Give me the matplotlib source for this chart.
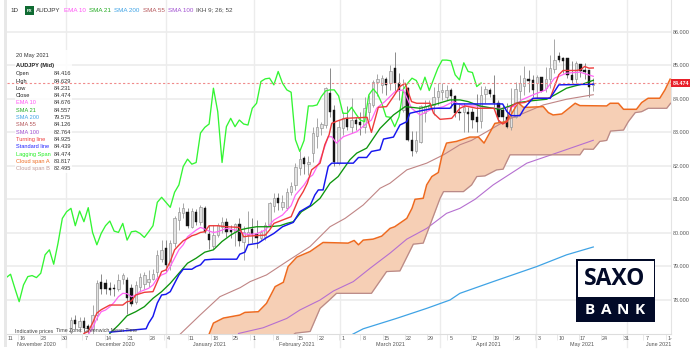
import numpy as np
import matplotlib
matplotlib.use('Agg')
from matplotlib import pyplot as plt
from matplotlib.patches import Rectangle

plt.rcParams['font.family'] = ['Liberation Sans', 'DejaVu Sans']

# candles, first one is bar 11 (bar 0 = 16 Nov 2020)
first_bar = 11
opens = [77.03,77.38,77.18,77.36,77.2,77.13,77.53,78.53,78.51,78.36,78.36,78.33,78.61,78.58,78.36,77.93,78.38,78.48,78.53,78.63,
         78.83,79.23,79.55,79.03,79.68,80.38,80.6,80.61,80.18,80.63,80.33,80.73,79.95,79.61,79.93,80.18,80.33,80.08,80.03,80.25,
         79.73,79.93,80.1,79.95,79.83,79.88,80.23,80.81,81.03,80.76,80.73,81.23,81.43,81.93,82.23,82.05,82.38,82.88,83.12,83.22,
         84.19,83.67,82.08,83.12,83.42,83.17,83.37,83.3,83.17,83.62,83.82,84.5,84.42,84.6,84.47,84.92,84.47,83.67,84.32,82.76,
         82.43,82.7,83.57,83.72,83.82,84.05,84.22,84.07,84.27,84.09,83.62,83.62,83.62,83.62,83.45,83.35,84.15,84.27,84.12,83.87,
         83.67,83.47,83.17,83.47,84.25,84.4,84.59,84.57,84.47,84.65,84.32,84.59,84.9,85.29,85.23,85.23,84.72,84.59,85.04,84.87,
         84.85,84.416]
highs = [77.48,77.53,77.48,77.48,77.28,77.83,78.58,78.76,78.63,78.53,78.48,78.78,78.8,78.68,78.48,78.55,78.81,78.83,78.88,78.93,
         79.48,79.78,79.78,79.78,80.51,80.78,80.9,80.75,80.73,80.7,80.83,80.8,80.23,80.23,80.28,80.48,80.43,80.23,80.3,80.43,
         80.2,80.65,80.45,80.38,80.08,80.33,80.93,81.18,81.18,81.13,81.35,81.53,82.08,82.43,82.3,82.3,83.15,83.42,83.32,84.37,
         84.92,83.82,83.37,83.62,83.79,84.02,83.47,83.62,84.05,84.12,84.57,84.75,84.72,84.67,85.02,85.41,84.77,84.6,84.37,83.03,
         83.03,83.82,83.97,83.97,84.37,84.47,84.47,84.42,84.32,84.12,83.87,83.87,83.77,83.72,84.15,84.39,84.39,84.32,84.72,83.97,
         83.82,83.87,84.32,84.52,84.72,84.97,84.85,84.72,84.72,84.67,84.94,85.31,85.78,85.39,85.26,84.87,85.14,85.14,85.01,85.06,
         84.629,84.629]
lows = [76.95,77.13,77.03,76.95,76.98,76.95,77.38,78.18,78.18,78.13,78.11,78.25,78.48,77.58,77.8,77.88,78.23,78.33,78.38,78.58,
        78.68,79.13,78.83,78.88,79.58,80.08,80.43,80.13,80.13,80.23,80.23,79.98,79.51,79.51,79.88,79.98,79.88,79.83,79.61,79.61,
        79.2,79.65,79.68,79.53,79.78,79.78,80.18,80.63,80.68,80.68,80.68,81.13,81.28,81.73,81.76,81.73,82.1,82.53,82.92,83.12,
        83.47,82.0,82.03,82.92,83.07,82.97,83.07,82.92,82.97,83.37,83.75,84.09,84.17,84.12,84.27,84.22,83.97,83.6,82.73,82.28,
        82.38,82.68,83.32,83.67,83.52,83.82,83.97,83.97,83.72,83.47,83.37,83.02,83.02,83.12,83.02,83.12,83.87,84.07,83.77,83.32,
        83.32,83.12,83.07,83.42,83.87,84.12,84.22,84.07,84.02,84.22,84.22,84.32,84.77,85.11,84.77,84.62,84.47,84.47,84.67,84.59,
        84.05,84.231]
closes = [77.38,77.26,77.35,77.15,77.11,77.55,78.51,78.33,78.31,78.28,78.31,78.6,78.73,78.05,77.88,78.44,78.68,78.73,78.63,78.78,
          79.33,79.48,79.03,79.68,80.43,80.63,80.73,80.21,80.66,80.31,80.76,80.01,79.78,79.93,80.23,80.33,80.03,80.01,80.25,79.75,
          80.03,80.03,79.95,79.85,80.01,80.23,80.88,81.05,80.88,80.93,81.21,81.41,81.98,82.2,82.05,82.1,82.98,83.15,83.25,84.32,
          83.62,82.1,83.17,83.42,83.17,83.37,83.25,83.22,83.72,83.87,84.52,84.6,84.62,84.42,84.82,84.47,84.27,84.2,82.78,82.43,
          82.76,83.79,83.79,83.82,84.07,84.24,84.27,84.27,84.09,83.57,83.57,83.75,83.55,83.37,83.32,84.12,84.3,84.15,83.87,83.47,
          83.45,83.17,83.47,84.29,84.47,84.62,84.55,84.27,84.65,84.25,84.59,84.92,85.16,85.16,85.14,84.72,84.57,85.08,84.82,84.79,
          84.37,84.474]

# lagging span, one value per bar from bar -4
lagging = [78.66,78.76,78.34,77.94,78.44,78.69,78.72,78.66,78.79,79.34,79.49,79.06,79.69,80.43,80.63,80.73,80.21,80.65,80.33,80.75,
           80.01,79.64,79.98,80.21,80.35,80.05,80.01,80.28,79.78,80.03,80.05,79.98,79.86,80.03,80.21,80.91,81.06,80.91,80.76,81.21,81.43,
           81.98,82.2,82.05,82.1,82.98,83.15,83.25,84.32,83.62,82.1,83.17,83.42,83.17,83.37,83.25,83.22,83.72,83.87,84.52,84.6,
           84.62,84.42,84.82,84.47,84.27,84.2,82.78,82.43,82.76,83.79,83.79,83.82,84.07,84.24,84.27,84.27,84.09,83.57,83.57,83.75,
           83.55,83.37,83.32,84.12,84.3,84.15,83.87,83.47,83.45,83.17,83.47,84.29,84.47,84.62,84.55,84.27,84.65,84.25,84.59,84.92,
           85.16,85.16,85.14,84.72,84.57,85.08,84.82,84.79,84.37,84.474]

turning_x = [14,15,16,17,18,20,23,24,25,26,28,30,31,32,33,34,35,36,37,38,39,40,41,42,43,45,47,50,51,52,56,57,58,60,62,63.7,64.8,65.75,66.75,68.7,69.8,70.8,71.4,72.7,74.5,79.6,80.6,82.2,84.1,85.7,87.2,88.4,89.9,91.1,94.2,95,96.5,99.2,101.1,102.3,105,109,110,111,112,113,114,116,118,119,122,123,124,125,128,129,130,131,132]
turning_y = [76.99,77.05,77.3,77.6,77.7,77.84,77.84,77.94,77.96,78.14,78.22,78.24,78.54,78.84,78.89,79.14,79.49,79.63,79.76,79.83,79.91,79.95,80.01,80.03,80.21,80.21,80.18,80.16,79.88,79.9,79.93,80.08,80.28,80.38,80.48,81.0,81.23,81.48,81.88,82.08,82.63,82.93,83.27,83.34,83.42,83.45,83.0,83.75,83.77,84.07,84.37,84.47,83.92,83.87,83.87,83.57,83.39,83.42,83.72,83.79,83.72,83.72,83.37,83.25,83.32,83.77,83.87,83.89,84.0,84.02,84.02,84.37,84.72,84.85,84.85,84.87,84.97,84.92,84.925]
standard_x = [20,28.4,29,30,31,32,33,34,35,36,37,39,40,41,42,44,49.4,50.1,51.3,52,54.4,56,58,60,62.5,64,66.4,67.5,68.3,69.4,70.6,71.4,76.4,77.6,79.5,80.6,82.6,83.4,85.7,87.2,88.8,89.5,91.1,95,98.8,99.6,103.4,111,112,113,115,116,118,122,123,124,132]
standard_y = [77.03,77.13,77.3,77.5,77.9,78.14,78.16,78.24,78.49,78.74,78.91,78.91,78.99,79.04,79.19,79.21,79.21,79.36,79.42,79.64,79.69,79.83,79.98,80.18,80.31,80.63,80.81,81.13,81.28,81.28,81.98,82.08,82.08,82.25,82.25,82.43,82.48,82.8,82.86,83.22,83.32,83.57,83.62,83.72,83.72,83.85,83.85,83.85,83.62,83.5,83.5,83.72,84.02,84.02,84.22,84.42,84.439]
ema10_x = [15,16,17,18,19,20,21,22,23,24,25,26,27,28,29,30,31,32,33,34,35,36,37,38,39,40,41,42,43,44,45,46,47,48,50,51,52,54,56,57,58,60,62,63,64,65,66,67,68.5,69.4,70.6,71.4,72.5,74.1,77.2,79.5,80.6,81.8,83.7,86.1,88,89.9,91.9,94.2,97.3,99.6,101.9,105,108.4,111,113.5,115.4,118,121,123,125.8,128.9,132]
ema10_y = [76.96,77.15,77.44,77.64,77.69,77.79,77.92,78.09,78.19,78.18,78.09,78.14,78.24,78.29,78.34,78.44,78.64,78.74,78.79,78.99,79.24,79.49,79.64,79.88,79.98,80.08,80.16,80.11,80.05,80.01,80.03,80.08,80.13,80.11,80.05,79.98,79.95,79.97,80.08,80.23,80.38,80.53,80.81,81.13,81.28,81.43,81.63,81.73,82.1,82.43,82.87,82.87,82.68,82.87,83.02,83.27,83.37,83.72,83.92,84.22,84.27,83.72,83.52,83.67,83.77,83.92,83.79,83.79,83.72,83.72,83.77,83.97,84.12,84.27,84.62,84.77,84.8,84.676]
sma21_x = [20,22,24,26,28,30,32,34,36,38,40,42,44,46,48,50,51.7,54,57,59.4,61,62.5,64.4,66.7,68.7,71,72.9,75.6,77.2,79.5,82.6,85.7,88.4,91.9,95.7,98.8,101.1,103,105.7,108.8,110.4,112.7,114.6,118.1,121.2,123.5,125.8,127.8,129.7,132]
sma21_y = [76.99,77.24,77.52,77.64,77.79,78.04,78.24,78.49,78.79,79.09,79.24,79.42,79.49,79.74,79.93,80.08,80.13,80.18,80.18,80.21,80.28,80.33,80.63,80.81,81.03,81.48,81.68,82.18,82.38,82.53,83.12,83.52,83.77,83.72,83.85,83.97,83.97,83.92,83.79,83.72,83.69,83.79,83.89,83.95,83.99,84.15,84.32,84.39,84.45,84.557]
sma55_x = [36.3,40.9,45.5,50.2,52.5,56.3,61,66.4,71,74.5,78.7,82.6,84.9,88.8,93.4,97.3,101.1,103.8,107.3,112,115.8,120.4,125.8,132]
sma55_y = [76.97,77.54,78.09,78.36,78.54,78.74,79.14,79.59,80.18,80.43,80.83,81.33,81.48,81.88,82.08,82.33,82.63,82.76,83.02,83.37,83.57,83.82,83.99,84.126]
sma100_x = [49.8,55.5,61,64,68.7,71.8,76.4,80.3,84.9,88.8,93.4,98,101.1,104.6,108.8,116.6,124.3,132]
sma100_y = [76.99,77.16,77.44,77.69,77.99,78.26,78.54,78.94,79.39,79.81,80.13,80.58,80.73,81.0,81.43,82.08,82.42,82.764]
sma200_x = [76.3,78.7,86.4,93.4,98.8,101.1,108.8,118.9,125.8,132]
sma200_y = [76.97,77.13,77.44,77.74,77.99,78.19,78.54,78.99,79.34,79.575]
cloud_a_x = [43,44,46.3,50.1,51.3,54.4,56.3,58.3,60.2,61.3,63.3,66.4,69.4,75.2,76.6,77.6,78.7,81,83,84.9,86,88.8,90,90.7,92.6,93.4,94.6,96.1,96.9,98,100.3,103.4,105.4,106.7,109.2,112,114.6,115.8,116.9,120.4,121.6,122.7,124.7,127.8,128.9,135.1,135.9,137.8,139,142,143.2,144.7,147.4,148.6,149.8]
cloud_a_y = [76.97,77.3,77.45,77.54,77.62,77.64,77.89,78.39,78.52,78.99,79.27,79.44,79.71,79.69,79.77,79.64,79.78,79.81,79.9,80.13,80.18,80.43,80.73,81.0,81.03,81.43,81.68,81.8,82.28,82.68,82.73,82.86,82.86,82.68,83.27,83.32,83.89,83.75,83.75,83.77,83.59,83.52,83.55,83.87,83.8,83.79,83.87,83.87,83.69,83.69,83.89,84.02,84.02,84.27,84.59]
cloud_b_x = [43,62,63,66.4,68.7,70.6,72.5,80.6,84.1,87.2,90.3,92.6,96.5,97.3,101.9,103.8,105,106.9,109.6,111.1,112.7,128.9,129.8,132,133.5,135.1,136,139,140.1,141.7,143.2,144.7,149,149.9]
cloud_b_y = [76.3,76.9,77.0,77.05,77.74,77.96,78.19,78.19,78.84,78.86,79.66,79.69,81.03,81.23,81.23,81.43,81.68,81.7,81.88,81.9,82.33,82.33,82.5,82.495,82.73,82.76,83.04,83.07,83.32,83.59,83.62,83.72,83.72,83.87]

last_close = 84.474
y_ticks = [78, 79, 80, 81, 82, 83, 84, 85, 86]
day_pos = [-3,-0.3,4.75,9.6,14.5,19.8,24.9,30,33.5,39,44.4,49.2,53.4,58.7,64.3,69.1,74,78.9,84.2,89.3,94.4,99,104.6,109.7,114.5,119.4,124.7,129.6,134.7,139.8,144.4,149.8]
day_labels = ['11','16','23','30','7','14','21','28','4','11','18','25','1','8','15','22','1','8','15','22','29','5','12','19','26','3','10','17','24','31','7','1-']
month_grid = [9.85,33,53.4,73.3,96.5,118.7,139.8]
month_pos = [3.1,21.4,43,63.3,84.9,107.6,129.3,147.2]
month_labels = ['November 2020','December 2020','January 2021','February 2021','March 2021','April 2021','May 2021','June 2021']

info_rows = [('Open','84.416','#222222'),('High','84.629','#222222'),('Low','84.231','#222222'),('Close','84.474','#222222'),
             ('EMA 10','84.676','#ff55f5'),('SMA 21','84.557','#22aa22'),('SMA 200','79.575','#3fa3e5'),('SMA 55','84.126','#b5565a'),
             ('SMA 100','82.764','#a04fd0'),('Turning line','84.925','#ee3b3b'),('Standard line','84.439','#2222ff'),
             ('Lagging Span','84.474','#22ee22'),('Cloud span A','83.817','#ee6a1f'),('Cloud span B','82.495','#c09a98')]
header = [('AUDJPY',36,'#333333'),('EMA 10',64,'#ff55f5'),('SMA 21',89,'#22aa22'),('SMA 200',114,'#3fa3e5'),
          ('SMA 55',143,'#b5565a'),('SMA 100',168,'#a04fd0'),('IKH 9; 26; 52',196,'#444444')]

W, H = 700, 355
fig = plt.figure(figsize=(W/100, H/100), dpi=100)
ax = fig.add_axes([7/W, 1-334/H, (671-7)/W, 334/H])
ax.set_xlim(-3.82, 150)
ax.set_ylim(86-(334-32)/33.46, 86+32/33.46)
for s in ax.spines.values():
    s.set_visible(False)
ax.spines['bottom'].set_visible(True)
ax.spines['bottom'].set_color('#dddddd')
ax.spines['right'].set_visible(True)
ax.spines['right'].set_color('#e4e4e4')

ax.set_yticks(y_ticks, [f'{v:.3f}' for v in y_ticks])
ax.yaxis.tick_right()
ax.tick_params(axis='y', length=0, pad=1, labelsize=3.9, labelcolor='#555555')
ax.set_xticks(day_pos, day_labels)
ax.tick_params(axis='x', length=0, pad=1.2, labelsize=3.9, labelcolor='#555555')
# small separators just left of each day label
ax.set_xticks([p-1 for p in day_pos[1:]], minor=True)
ax.tick_params(axis='x', which='minor', length=4, width=0.5, color='#dedede')
ax.grid(axis='y', color='#ececec', lw=1.2, zorder=0)
ax.set_axisbelow(True)
for m in month_grid:
    ax.plot([m, m], [-0.04, 1], color='#ececec', lw=1.0, zorder=0.5, clip_on=False,
            transform=ax.get_xaxis_transform())
for p, t in zip(month_pos, month_labels):
    ax.text(p, -0.03, t, transform=ax.get_xaxis_transform(), ha='center', va='center',
            fontsize=3.9, color='#555555', clip_on=False)

# cloud
xx = np.arange(43, 150, 0.1)
a_line = np.interp(xx, cloud_a_x, cloud_a_y)
b_line = np.interp(xx, cloud_b_x, cloud_b_y)
ax.fill_between(xx, a_line, b_line, color='#f6cfb5', lw=0, zorder=1)

# candles
bars = np.arange(first_bar, first_bar+len(opens))
o, h, l, c = map(np.array, (opens, highs, lows, closes))
up = c >= o
ax.vlines(bars[up], l[up], h[up], color='#999999', lw=0.6, zorder=2)
ax.vlines(bars[~up], l[~up], h[~up], color='#777777', lw=0.6, zorder=2)
ax.bar(bars[up], (c-o)[up], bottom=o[up], width=0.55, color='#e2e2e2', edgecolor='#909090', lw=0.45, zorder=3)
ax.bar(bars[~up], (o-c)[~up], bottom=c[~up], width=0.55, color='#151515', edgecolor='#151515', lw=0.3, zorder=3)

# lines
ax.plot(sma200_x, sma200_y, color='#3fa3e5', lw=0.9, zorder=4)
ax.plot(sma100_x, sma100_y, color='#b56fd0', lw=0.8, zorder=4)
ax.plot(sma55_x, sma55_y, color='#c08585', lw=0.8, zorder=4)
ax.plot(cloud_b_x, cloud_b_y, color='#b98a88', lw=0.9, zorder=4)
ax.plot(cloud_a_x, cloud_a_y, color='#ee6a1f', lw=1.1, zorder=4)
ax.plot(np.arange(-4, -4+len(lagging)), lagging, color='#33f533', lw=0.95, zorder=5)
ax.plot(ema10_x, ema10_y, color='#ff66f5', lw=0.9, zorder=5)
ax.plot(sma21_x, sma21_y, color='#0d950d', lw=0.95, zorder=5)
ax.plot(turning_x, turning_y, color='#ee3b3b', lw=1.0, zorder=6)
ax.plot(standard_x, standard_y, color='#1616ee', lw=1.05, zorder=6)
ax.axhline(last_close, color='#f08a8a', lw=0.8, ls=(0, (2, 2)), zorder=7)
ax.text(1.002, last_close, f'{last_close:.3f}', transform=ax.get_yaxis_transform(), ha='left', va='center',
        fontsize=3.9, fontweight='bold', color='white', zorder=9,
        bbox=dict(boxstyle='square,pad=0.25', fc='#e8202a', ec='none'))


# pixel helpers for the overlay bits
def px(x, y):
    return x/W, 1-y/H


def ftext(x, y, s, **kw):
    kw.setdefault('fontsize', 4.5)
    kw.setdefault('va', 'center')
    kw.setdefault('zorder', 12)
    fig.text(*px(x, y), s, **kw)


def frect(x0, y0, x1, y1, color, z=10, alpha=1):
    fig.add_artist(Rectangle(px(x0, y1), (x1-x0)/W, (y1-y0)/H, transform=fig.transFigure,
                             fc=color, ec='none', alpha=alpha, zorder=z))


# left strip
frect(4, 0, 7, 347, '#e8e8e8', z=1)

# header
ftext(10, 10, '1D', color='#333333')
frect(25, 6, 34, 15, '#0f6b32')
ftext(29.5, 10.5, 'FX', color='white', fontsize=3.2, fontweight='bold', ha='center')
for t, x, col in header:
    ftext(x, 10, t, color=col)

# info panel
ftext(16, 55, '20 May 2021', color='#333333', fontsize=4.1)
ftext(16, 65, 'AUDJPY (Mid)', color='#222222', fontweight='bold', fontsize=4.1)
for i, (name, val, col) in enumerate(info_rows):
    y = 73.7+i*7.32
    ftext(16, y, name, color=col, fontsize=4.1)
    ftext(54, y, val, color='#333333', fontsize=4.1)
ax.add_patch(Rectangle((15/W, 1-173/H), 57/W, 123/H, transform=fig.transFigure, fc='white', ec='none', alpha=0.85, zorder=6.5))

ftext(15, 331, 'Indicative prices', color='#444444', fontsize=3.8)
ftext(56, 331, 'Time Zone: Greenwich Mean Time', color='#444444', fontsize=3.8)

# logo
frect(576, 259, 655, 322, '#020a28', z=10)
frect(577.5, 260.5, 653.7, 296.5, 'white', z=11)
ftext(615, 279, 'SAXO', color='#020a28', fontsize=16.5, fontweight='bold', family='Open Sans', ha='center')
for x, ch in zip([590, 606, 623, 640], 'BANK'):
    ftext(x, 309.5, ch, color='white', fontsize=11, fontweight='bold', family='Open Sans', ha='center')

fig.savefig('out.png', dpi=100)
